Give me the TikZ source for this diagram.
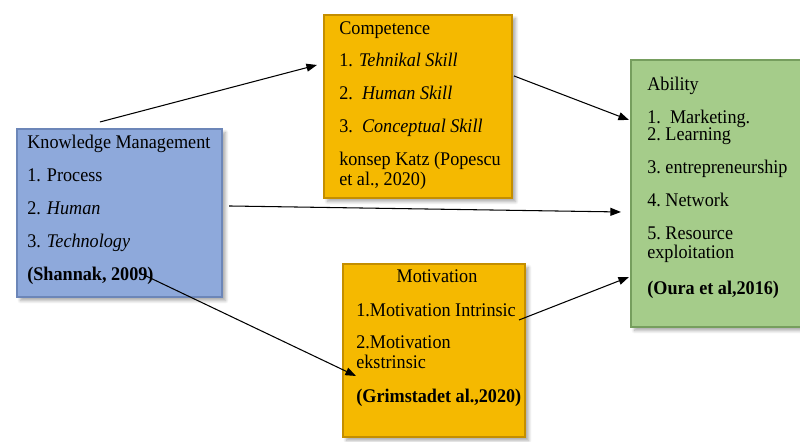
\documentclass[tikz,border=0pt]{standalone}
\usepackage{fontspec}
\setmainfont[FakeStretch=0.94]{Liberation Serif}
\usetikzlibrary{arrows.meta,shadows.blur,positioning}
\definecolor{kmblue}{RGB}{142,169,219}
\definecolor{kmrim}{RGB}{108,134,184}
\definecolor{gold}{RGB}{245,185,0}
\definecolor{goldrim}{RGB}{196,142,0}
\definecolor{abgreen}{RGB}{165,204,138}
\definecolor{abrim}{RGB}{118,158,94}
\tikzset{
  box/.style={draw=#1, line width=1.2pt, inner sep=0pt,
    blur shadow={shadow xshift=2pt, shadow yshift=-2pt, shadow blur steps=6, shadow opacity=35}},
  boxtext/.style={anchor=north west, inner sep=0pt, align=left,
    font=\fontsize{11}{11.3}\selectfont},
  link/.style={-{Triangle[length=6pt,width=4.5pt]}, line width=0.6pt}
}

\begin{document}
\begin{tikzpicture}[x=0.02cm, y=-0.02cm]
\useasboundingbox (0,0) rectangle (800,441);
% boxes
\node[box=kmrim, fill=kmblue, minimum width=4.1cm, minimum height=3.36cm] (km) at (119.5,213) {};
\node[box=goldrim, fill=gold, minimum width=3.76cm, minimum height=3.66cm] (comp) at (418,106.5) {};
\node[box=goldrim, fill=gold, minimum width=3.64cm, minimum height=3.46cm] (motiv) at (434,350.5) {};
\node[box=abrim, fill=abgreen, minimum width=3.8cm, minimum height=5.34cm] (abil) at (726,193.5) {};
% texts
\node[boxtext] (kmtext) at ([shift={(11,7)}]km.north west)
  {Knowledge Management\\[7.4pt]
   1. Process\\[7.4pt]
   2. \textit{Human}\\[7.4pt]
   3. \textit{Technology}\\[7.4pt]
   \textbf{(Shannak, 2009)}};
\node[boxtext] (comptext) at ([shift={(16,7)}]comp.north west)
  {Competence\\[7.4pt]
   1. \textit{Tehnikal Skill}\\[7.4pt]
   2.\ \ \textit{Human Skill}\\[7.4pt]
   3.\ \ \textit{Conceptual Skill}\\[7.4pt]
   konsep Katz (Popescu\\
   et al., 2020)};
\node[boxtext, anchor=north] (motivtitle) at ([shift={(3,6)}]motiv.north) {Motivation};
\node[boxtext] (motivtext) at ([shift={(14,40)}]motiv.north west)
  {1.Motivation Intrinsic\\[7.4pt]
   2.Motivation\\
   ekstrinsic\\[8pt]
   \textbf{(Grimstadet al.,2020)}};
\node[boxtext] (abiltext) at ([shift={(17,18)}]abil.north west)
  {Ability\\[7.4pt]
   1.\ \ Marketing.\\[-1.7pt]
   2.\ Learning\\[7.4pt]
   3.\ entrepreneurship\\[7.4pt]
   4.\ Network\\[7.4pt]
   5.\ Resource\\
   exploitation\\[9pt]
   \textbf{(Oura et al,2016)}};
% connectors
\draw[link] ([shift={(84,-6)}]km.north west) -- ([shift={(-6,51)}]comp.north west);
\draw[link] ([shift={(1,62)}]comp.north east) -- ([shift={(-1,61)}]abil.north west);
\draw[link] ([shift={(6,78)}]km.north east) -- ([shift={(-9,153)}]abil.north west);
\draw[link] ([shift={(128,147)}]km.north west) -- ([shift={(14,113)}]motiv.north west);
\draw[link] ([shift={(-7,57)}]motiv.north east) -- ([shift={(-1,218)}]abil.north west);
\end{tikzpicture}
\end{document}
